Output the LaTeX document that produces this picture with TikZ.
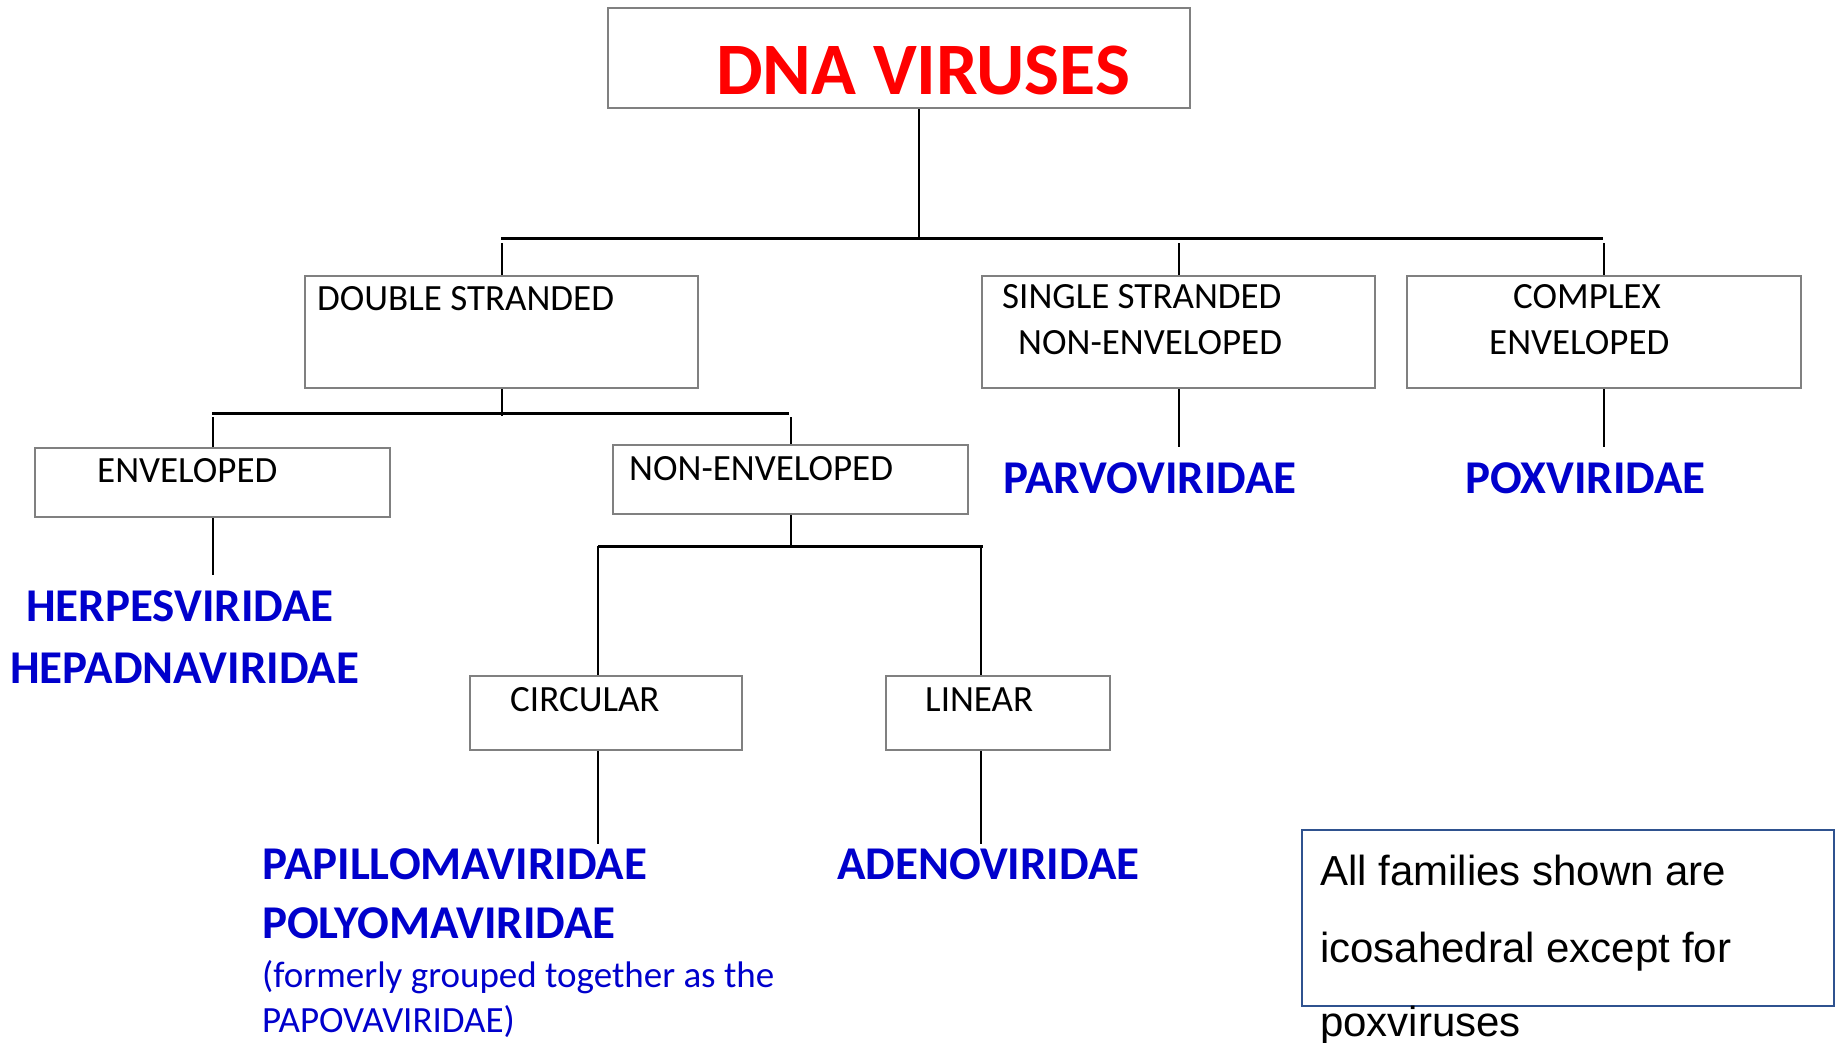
\documentclass[tikz,border=0pt]{standalone}
\usepackage{fontspec}
\setmainfont{Carlito}
\newfontfamily\arialfont{Liberation Sans}
\definecolor{fam}{RGB}{0,0,204}
\definecolor{boxgray}{RGB}{128,128,128}
\definecolor{notebl}{RGB}{47,82,143}
\newcommand{\fsz}[1]{\fontsize{#1}{#1}\selectfont}
\begin{document}
\begin{tikzpicture}[x=1pt,y=-1pt,
  box/.style={draw=boxgray,line width=2pt,inner sep=0pt,anchor=north west},
  lbl/.style={anchor=base west,inner sep=0pt,font=\fsz{37}},
  famname/.style={anchor=base west,inner sep=0pt,font=\fsz{47}\bfseries,text=fam},
  conn/.style={line width=2pt,black},
  hbar/.style={line width=3pt,black}]
\useasboundingbox[fill=white] (0,0) rectangle (1835,1042);
% boxes
\node[box,minimum width=582pt,minimum height=100pt] (top) at (607,7) {};
\node[box,minimum width=393pt,minimum height=112pt] (ds) at (304,275) {};
\node[box,minimum width=393pt,minimum height=112pt] (ss) at (981,275) {};
\node[box,minimum width=394pt,minimum height=112pt] (cx) at (1406,275) {};
\node[box,minimum width=355pt,minimum height=69pt] (env) at (34,447) {};
\node[box,minimum width=355pt,minimum height=69pt] (nenv) at (612,444) {};
\node[box,minimum width=272pt,minimum height=74pt] (circ) at (469,675) {};
\node[box,minimum width=224pt,minimum height=74pt] (lin) at (885,675) {};
\node[box,draw=notebl,minimum width=532pt,minimum height=176pt] (note) at (1301,829) {};
% texts
\node[anchor=base west,inner sep=0pt,font=\fsz{74}\bfseries,text=red] (ttop) at (716,94) {DNA VIRUSES};
\node[lbl] (tds) at (317,310) {DOUBLE STRANDED};
\node[lbl] (tss1) at (1002,308) {SINGLE STRANDED};
\node[lbl] (tss2) at (1018,354) {NON-ENVELOPED};
\node[lbl] (tcx1) at (1513,308) {COMPLEX};
\node[lbl] (tcx2) at (1489,354) {ENVELOPED};
\node[lbl] (tenv) at (97,482) {ENVELOPED};
\node[lbl] (tnenv) at (629,480) {NON-ENVELOPED};
\node[lbl] (tcirc) at (510,711) {CIRCULAR};
\node[lbl] (tlin) at (925,711) {LINEAR};
\node[famname] (herp) at (26,621) {HERPESVIRIDAE};
\node[famname] (hepa) at (10,683) {HEPADNAVIRIDAE};
\node[famname] (parvo) at (1003,493) {PARVOVIRIDAE};
\node[famname] (pox) at (1465,493) {POXVIRIDAE};
\node[famname] (papi) at (262,879) {PAPILLOMAVIRIDAE};
\node[famname] (poly) at (262,938) {POLYOMAVIRIDAE};
\node[famname] (adeno) at (837,879) {ADENOVIRIDAE};
\node[anchor=base west,inner sep=0pt,font=\fsz{37},text=fam] (form1) at (262,987) {(formerly grouped together as the};
\node[anchor=base west,inner sep=0pt,font=\fsz{37},text=fam] (form2) at (262,1032) {PAPOVAVIRIDAE)};
\node[anchor=base west,inner sep=0pt,font=\arialfont\fsz{42}] (n1) at (1320,885) {All families shown are};
\node[anchor=base west,inner sep=0pt,font=\arialfont\fsz{42}] (n2) at (1320,962) {icosahedral except for};
\node[anchor=base west,inner sep=0pt,font=\arialfont\fsz{42}] (n3) at (1320,1036) {poxviruses};
% connector coordinates
\coordinate (j1) at (919,238);
\coordinate (b1L) at (501,238);
\coordinate (b1R) at (1603,238);
\coordinate (t1) at (0,243);
\coordinate (b2L) at (212,413);
\coordinate (b2R) at (789,413);
\coordinate (j2) at (0,416);
\coordinate (t2) at (0,417);
\coordinate (e1) at (0,575);
\coordinate (e2) at (0,447);
\coordinate (b3L) at (598,546);
\coordinate (b3R) at (983,546);
\coordinate (c3R) at (981,546);
\coordinate (e3) at (0,844);
% level 1
\draw[conn] (top.south -| j1) -- (j1);
\draw[hbar] (b1L) -- (b1R);
\draw[conn] (ds.north) -- (ds.north |- t1);
\draw[conn] (ss.north) -- (ss.north |- t1);
\draw[conn] (cx.north) -- (cx.north |- t1);
\draw[conn] (ss.south) -- (ss.south |- e2);
\draw[conn] (cx.south) -- (cx.south |- e2);
% double stranded
\draw[conn] (ds.south) -- (ds.south |- j2);
\draw[hbar] (b2L) -- (b2R);
\draw[conn] (env.north) -- (env.north |- t2);
\draw[conn] (nenv.north) -- (nenv.north |- t2);
\draw[conn] (env.south) -- (env.south |- e1);
% non-enveloped
\draw[conn] (nenv.south) -- (nenv.south |- b3L);
\draw[hbar] (b3L) -- (b3R);
\draw[conn] (b3L) -- (circ.north -| b3L);
\draw[conn] (c3R) -- (lin.north -| c3R);
\draw[conn] (circ.south -| b3L) -- (b3L |- e3);
\draw[conn] (lin.south -| c3R) -- (c3R |- e3);
\end{tikzpicture}
\end{document}
